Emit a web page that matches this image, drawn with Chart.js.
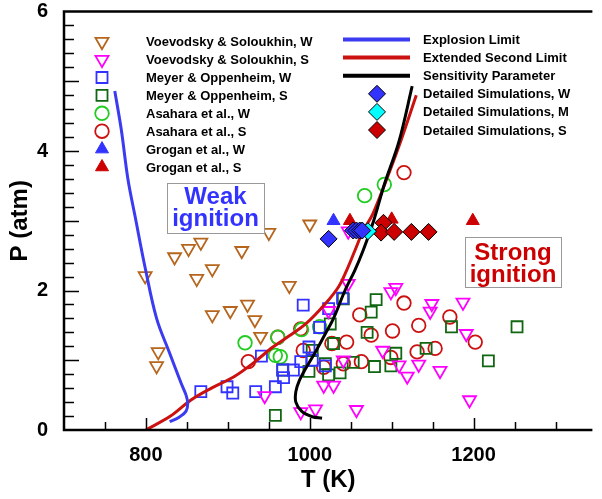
<!DOCTYPE html>
<html>
<head>
<meta charset="utf-8">
<script src="https://cdn.jsdelivr.net/npm/chart.js@4.4.0/dist/chart.umd.min.js"></script>
<style>
  html, body { margin: 0; padding: 0; background: #fff; overflow: hidden; }
</style>
</head>
<body>
<canvas id="chart" width="602" height="499"></canvas>
<script>
// Voevodsky & Soloukhin
const vsWeakT = [1000, 950, 867, 852, 835, 917, 881, 799, 862, 975, 924, 881, 903, 933, 940, 815, 813];
const vsWeakP = [2.95, 2.83, 2.69, 2.60, 2.48, 2.57, 2.31, 2.21, 2.17, 2.07, 1.80, 1.65, 1.71, 1.58, 1.34, 1.12, 0.92];
const vsStrongT = [945, 989, 1007, 1017, 1029, 1057, 1023, 1047, 1099, 1105, 1041, 1089, 1109, 1119, 1133, 1159, 1149, 1147, 1187, 1191, 1195, 1047];
const vsStrongP = [0.49, 0.26, 0.30, 0.64, 0.64, 0.29, 1.71, 2.10, 1.98, 2.04, 1.00, 1.14, 0.93, 0.77, 0.94, 0.85, 1.81, 1.70, 1.83, 1.38, 0.43, 2.85];

// Meyer & Oppenheim
const moWeakT = [867, 899, 906, 934, 958, 941, 968, 967, 980, 992, 989, 999, 1003, 1012, 1023, 1040, 1019];
const moWeakP = [0.55, 0.62, 0.53, 0.55, 0.62, 1.06, 0.75, 0.86, 0.86, 1.79, 0.98, 1.19, 1.00, 1.47, 1.74, 1.89, 0.92];
const moStrongT = [958, 967, 999, 1003, 1019, 1023, 1025, 1029, 1037, 1041, 1053, 1070, 1075, 1081, 1079, 1099, 1105, 1142, 1173, 1218, 1253];
const moStrongP = [0.21, 0.86, 0.84, 1.14, 0.95, 0.79, 1.52, 1.24, 0.82, 1.88, 0.97, 1.40, 1.69, 1.87, 0.91, 0.92, 1.10, 1.17, 1.48, 0.99, 1.48];

// Asahara et al.
const asWeakT = [921, 961, 958, 964, 990, 1012, 1067, 1091];
const asWeakP = [1.25, 1.33, 1.07, 1.05, 1.44, 1.48, 3.36, 3.52];
const asStrongT = [925, 961, 989, 992, 1017, 1027, 1041, 1045, 1063, 1061, 1075, 1101, 1099, 1115, 1131, 1133, 1153, 1171, 1202, 1115];
const asStrongP = [0.98, 1.33, 1.45, 1.14, 0.90, 1.24, 0.95, 1.26, 0.98, 1.65, 1.36, 1.42, 1.04, 1.82, 1.12, 1.50, 1.17, 1.62, 1.26, 3.69];

// Grogan et al.
const grWeakT = [1029];
const grWeakP = [3.0];
const grStrongT = [1049, 1100, 1199];
const grStrongP = [3.0, 3.02, 3.0];

// Detailed simulations
const simWeakT = [1023, 1053, 1057, 1061, 1064];
const simWeakP = [2.74, 2.86, 2.86, 2.86, 2.86];
const simMidT = [1071];
const simMidP = [2.85];
const simStrongT = [1090, 1087, 1103, 1124, 1145];
const simStrongP = [2.97, 2.83, 2.84, 2.84, 2.84];

// Limit curves
const explosionT = [762, 770, 778, 787, 799, 813, 829, 843, 849, 851, 849, 840, 829];
const explosionP = [4.86, 4.30, 3.60, 3.05, 2.33, 1.60, 1.10, 0.67, 0.50, 0.38, 0.27, 0.18, 0.12];
const secondT = [800, 830, 855, 880, 907, 930, 955, 975, 995, 1019, 1035, 1045, 1055, 1065, 1077, 1094, 1111, 1130];
const secondP = [0, 0.20, 0.43, 0.60, 0.76, 0.95, 1.19, 1.35, 1.52, 1.81, 2.05, 2.29, 2.57, 2.85, 3.10, 3.60, 4.14, 4.80];
const sensT = [1015, 1003, 990, 983, 983, 987, 995, 1007, 1019, 1029, 1043, 1055, 1065, 1078, 1091, 1109, 1125];
const sensP = [0.17, 0.19, 0.27, 0.40, 0.55, 0.70, 0.88, 1.12, 1.38, 1.60, 2.00, 2.29, 2.57, 3.00, 3.52, 4.14, 4.93];

const xTickLabels = [800, 1000, 1200];

const FONT = 'Arial, "Liberation Sans", sans-serif';
Chart.defaults.font.family = FONT;
Chart.defaults.color = '#000';

function pts(ts, ps) {
    return ts.map((t, i) => ({ x: t, y: ps[i] }));
}

const clear = 'rgba(0,0,0,0)';

function markers(label, ts, ps, style, color, fill, radius, rotation) {
    return {
        label: label,
        data: pts(ts, ps),
        pointStyle: style,
        rotation: rotation || 0,
        pointRadius: radius,
        pointHoverRadius: radius,
        pointBorderWidth: fill === color ? 1 : 1.8,
        borderColor: color,
        pointBorderColor: color,
        pointBackgroundColor: fill,
        backgroundColor: fill,
        showLine: false,
        order: 3
    };
}

function curve(label, ts, ps, color) {
    return {
        label: label,
        data: pts(ts, ps),
        showLine: true,
        borderColor: color,
        borderWidth: 3,
        pointRadius: 0,
        tension: 0.35,
        fill: false,
        order: 2
    };
}

const sets = [
    markers('Voevodsky & Soloukhin, W', vsWeakT, vsWeakP, 'triangle', '#b5651d', clear, 7.5, 180),
    markers('Voevodsky & Soloukhin, S', vsStrongT, vsStrongP, 'triangle', '#ff00ff', clear, 7.5, 180),
    markers('Meyer & Oppenheim, W', moWeakT, moWeakP, 'rect', '#3333ff', clear, 7.8),
    markers('Meyer & Oppenheim, S', moStrongT, moStrongP, 'rect', '#116611', clear, 7.8),
    markers('Asahara et al., W', asWeakT, asWeakP, 'circle', '#22cc22', clear, 6.8),
    markers('Asahara et al., S', asStrongT, asStrongP, 'circle', '#cc1111', clear, 6.8),
    markers('Grogan et al., W', grWeakT, grWeakP, 'triangle', '#3333ff', '#3333ff', 7.5),
    markers('Grogan et al., S', grStrongT, grStrongP, 'triangle', '#cc0000', '#cc0000', 7.5),
    curve('Explosion Limit', explosionT, explosionP, '#3b3bf2'),
    curve('Extended Second Limit', secondT, secondP, '#cc1111'),
    curve('Sensitivity Parameter', sensT, sensP, '#000000'),
    markers('Detailed Simulations, W', simWeakT, simWeakP, 'rectRot', '#3333ff', '#3333ff', 8.5),
    markers('Detailed Simulations, M', simMidT, simMidP, 'rectRot', '#00ffff', '#00ffff', 8.5),
    markers('Detailed Simulations, S', simStrongT, simStrongP, 'rectRot', '#cc0000', '#cc0000', 8.5)
];
// sensitivity curve above the other curves, simulations on top with black outline
sets[10].order = 1;
sets.slice(11).forEach(d => { d.order = 0; d.pointBorderColor = '#000'; });

function drawMark(ctx, ds, x, y) {
    ctx.save();
    ctx.strokeStyle = ds.pointBorderColor;
    ctx.fillStyle = ds.pointBackgroundColor;
    ctx.lineWidth = ds.pointBorderWidth;
    Chart.helpers.drawPoint(ctx, {
        pointStyle: ds.pointStyle,
        rotation: ds.rotation,
        radius: ds.pointRadius,
        borderWidth: ds.pointBorderWidth
    }, x, y);
    ctx.restore();
}

// legend in two columns, frame with inward ticks, region labels
const decorations = {
    id: 'decorations',
    beforeDatasetsDraw(chart) {
        const ctx = chart.ctx;
        const ds = chart.data.datasets;
        ctx.save();
        ctx.font = 'bold 13px ' + FONT;
        ctx.fillStyle = '#000';
        ctx.textBaseline = 'middle';
        ctx.textAlign = 'left';
        for (let i = 0; i < 8; i++) {
            const y = 41.7 + i * 17.9;
            drawMark(ctx, ds[i], 102, y);
            ctx.fillText(ds[i].label, 146, y + 1);
        }
        for (let i = 8; i < 14; i++) {
            const y = 39.5 + (i - 8) * 18.1;
            if (ds[i].showLine) {
                ctx.strokeStyle = ds[i].borderColor;
                ctx.lineWidth = 4;
                ctx.beginPath();
                ctx.moveTo(343, y);
                ctx.lineTo(410, y);
                ctx.stroke();
            } else {
                drawMark(ctx, ds[i], 377, y);
            }
            ctx.fillText(ds[i].label, 423, y + 1);
        }
        ctx.restore();
    },
    afterDraw(chart) {
        const ctx = chart.ctx;
        const a = chart.chartArea;
        const xs = chart.scales.x;
        const ys = chart.scales.y;
        ctx.save();
        ctx.strokeStyle = '#000';
        ctx.lineWidth = 1.5;
        ctx.beginPath();
        for (let t = 750; t <= 1300; t += 50) {
            const px = Math.round(xs.getPixelForValue(t)) + 0.5;
            const len = t % 200 === 0 ? 12 : 8;
            ctx.moveTo(px, a.bottom);
            ctx.lineTo(px, a.bottom - len);
        }
        for (let k = 1; k < 30; k++) {
            const py = Math.round(ys.getPixelForValue(k * 0.2)) + 0.5;
            const len = k % 5 === 0 ? 15 : 10;
            ctx.moveTo(a.left, py);
            ctx.lineTo(a.left + len, py);
        }
        ctx.stroke();

        ctx.lineWidth = 2.5;
        ctx.beginPath();
        ctx.moveTo(a.right, a.top);
        ctx.lineTo(a.left, a.top);
        ctx.lineTo(a.left, a.bottom);
        ctx.lineTo(a.right, a.bottom);
        ctx.stroke();

        // region labels
        const boxes = [
            { x: 167, y: 183, w: 97, h: 50, color: '#3333ff', lines: ['Weak', 'ignition'], base: [204, 226] },
            { x: 465, y: 237, w: 96, h: 50, color: '#cc0000', lines: ['Strong', 'ignition'], base: [260, 282] }
        ];
        boxes.forEach(b => {
            ctx.fillStyle = '#fff';
            ctx.fillRect(b.x, b.y, b.w, b.h);
            ctx.strokeStyle = '#999';
            ctx.lineWidth = 1;
            ctx.strokeRect(b.x + 0.5, b.y + 0.5, b.w, b.h);
            ctx.fillStyle = b.color;
            ctx.font = 'bold 24px ' + FONT;
            ctx.textAlign = 'center';
            ctx.textBaseline = 'alphabetic';
            b.lines.forEach((s, i) => ctx.fillText(s, b.x + b.w / 2, b.base[i]));
        });
        ctx.restore();
    }
};

new Chart(document.getElementById('chart').getContext('2d'), {
    type: 'scatter',
    data: { datasets: sets },
    options: {
        responsive: false,
        animation: false,
        events: [],
        layout: { padding: { top: 11.5, right: 0, bottom: 0, left: 0 } },
        plugins: {
            legend: { display: false },
            tooltip: { enabled: false }
        },
        scales: {
            x: {
                type: 'linear',
                min: 700,
                max: 1345,
                afterBuildTicks: s => { s.ticks = xTickLabels.map(v => ({ value: v })); },
                afterFit: s => { s.height = 69; },
                grid: { display: false },
                border: { display: false },
                ticks: { autoSkip: false, padding: 5, font: { size: 20, weight: 'bold' }, color: '#000', callback: v => String(v) },
                title: { display: true, text: 'T (K)', font: { size: 24, weight: 'bold' }, color: '#000', padding: { top: 0, bottom: 4 } }
            },
            y: {
                min: 0,
                max: 6,
                afterFit: s => { s.width = 64; s.paddingTop = 0; s.paddingBottom = 0; },
                grid: { display: false },
                border: { display: false },
                ticks: { stepSize: 2, padding: 8, font: { size: 20, weight: 'bold' }, color: '#000', callback: v => String(v) },
                title: { display: true, text: 'P (atm)', font: { size: 24, weight: 'bold' }, color: '#000', padding: { top: 6, bottom: 0 } }
            }
        }
    },
    plugins: [decorations]
});
</script>
</body>
</html>
